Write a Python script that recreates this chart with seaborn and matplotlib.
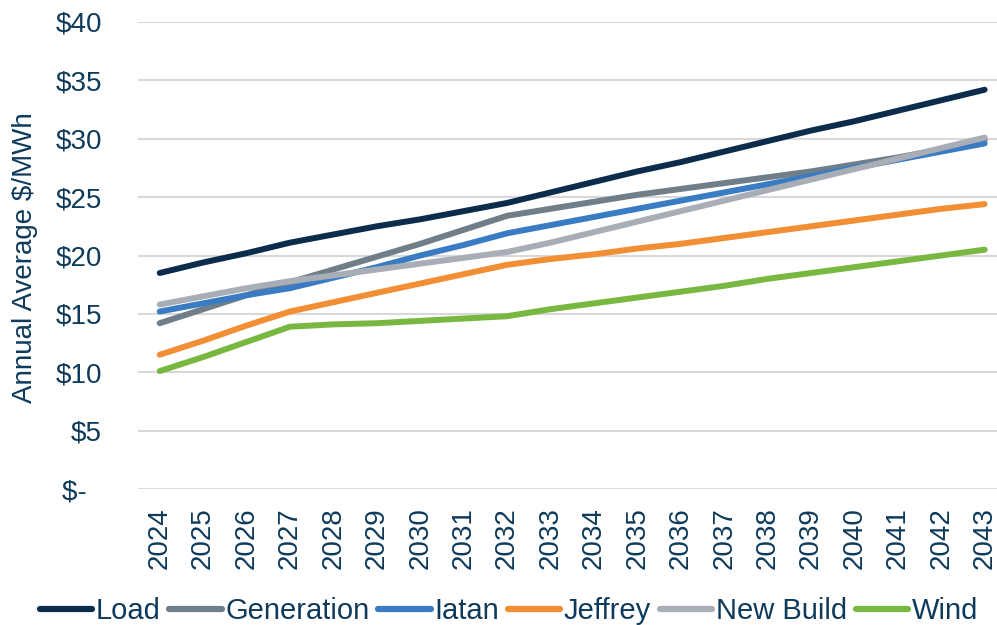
import pandas as pd
import matplotlib.pyplot as plt
import seaborn as sns

# --- values ($/MWh)
years = [str(y) for y in range(2024, 2044)]
load = [18.5, 19.4, 20.2, 21.1, 21.8, 22.5, 23.1, 23.8, 24.5, 25.4,
        26.3, 27.2, 28.0, 28.9, 29.8, 30.7, 31.5, 32.4, 33.3, 34.2]
generation = [14.2, 15.4, 16.6, 17.7, 18.8, 19.9, 21.0, 22.2, 23.4, 24.0,
              24.6, 25.2, 25.7, 26.2, 26.7, 27.2, 27.8, 28.4, 29.1, 29.9]
iatan = [15.2, 15.9, 16.6, 17.2, 18.1, 19.0, 20.0, 20.9, 21.9, 22.6,
         23.3, 24.0, 24.7, 25.4, 26.1, 26.8, 27.5, 28.2, 28.9, 29.6]
jeffrey = [11.5, 12.7, 14.0, 15.2, 16.0, 16.8, 17.6, 18.4, 19.2, 19.7,
           20.1, 20.6, 21.0, 21.5, 22.0, 22.5, 23.0, 23.5, 24.0, 24.4]
new_build = [15.8, 16.5, 17.2, 17.8, 18.3, 18.8, 19.3, 19.8, 20.3, 21.1,
             22.0, 22.9, 23.8, 24.7, 25.6, 26.5, 27.4, 28.3, 29.2, 30.1]
wind = [10.1, 11.3, 12.6, 13.9, 14.1, 14.2, 14.4, 14.6, 14.8, 15.4,
        15.9, 16.4, 16.9, 17.4, 18.0, 18.5, 19.0, 19.5, 20.0, 20.5]

series = ["Load", "Generation", "Iatan", "Jeffrey", "New Build", "Wind"]
colors = ["#0B2D4B", "#6F7E89", "#3A7CC3", "#F28E33", "#A9AEB6", "#79B840"]
text_color = "#0E3A5B"

df = pd.DataFrame({"Year": years, "Load": load, "Generation": generation,
                   "Iatan": iatan, "Jeffrey": jeffrey,
                   "New Build": new_build, "Wind": wind})
long = df.melt(id_vars="Year", var_name="Series", value_name="Price")

sns.set_style("white")
plt.rcParams["font.family"] = ["Liberation Sans", "DejaVu Sans"]

fig = plt.figure(figsize=(9.97, 6.25), dpi=100)
ax = fig.add_axes([0.1384, 0.2176, 0.871, 0.7472])

sns.lineplot(data=long, x="Year", y="Price", hue="Series", hue_order=series,
             palette=colors, linewidth=4.3, solid_capstyle="round", ax=ax)

ax.set_xlim(-0.5, len(years) - 0.5)
ax.set_ylim(0, 40)
ax.set_yticks(range(0, 41, 5))
ax.set_yticklabels(["$-  "] + [f"${v}" for v in range(5, 41, 5)])
ax.grid(axis="y", color="#D9D9D9", linewidth=1.5)
ax.grid(axis="x", visible=False)
for s in ax.spines.values():
    s.set_visible(False)

ax.tick_params(axis="y", length=0, pad=26, labelsize=20, labelcolor=text_color)
ax.tick_params(axis="x", length=0, pad=13, labelsize=20, labelcolor=text_color,
               labelrotation=90)
ax.set_xlabel("")
ax.set_ylabel("Annual Average $/MWh", fontsize=20, color=text_color)
ax.yaxis.set_label_coords(-0.115, 0.495)

sns.move_legend(ax, "center", bbox_to_anchor=(0.427, -0.261), ncol=6,
                frameon=False, title=None, fontsize=21, handlelength=1.8,
                handletextpad=0.12, columnspacing=0.3,
                bbox_transform=ax.transAxes)
leg = ax.get_legend()
for line in leg.get_lines():
    line.set_linewidth(4.5)
    line.set_solid_capstyle("round")
for t in leg.get_texts():
    t.set_color(text_color)

plt.savefig("out.png", dpi=100)
plt.close()
